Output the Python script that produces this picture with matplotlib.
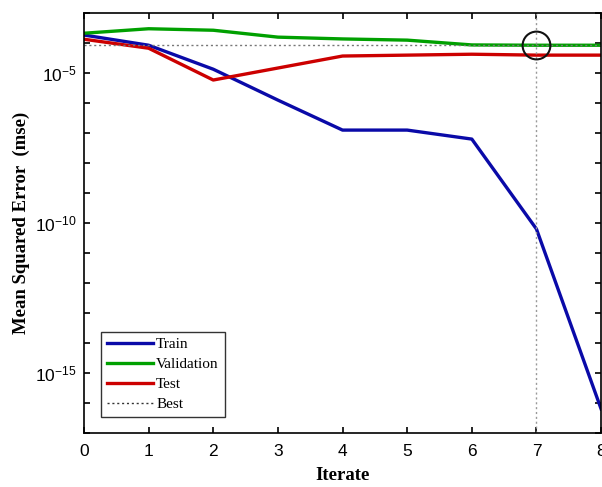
import numpy as np
import matplotlib
matplotlib.use("Agg")
import matplotlib.pyplot as plt
from matplotlib.ticker import FixedLocator, FuncFormatter, NullFormatter

plt.rcParams["mathtext.fontset"] = "custom"
plt.rcParams["mathtext.rm"] = "Liberation Sans"
plt.rcParams["mathtext.it"] = "Liberation Sans"
plt.rcParams["mathtext.bf"] = "Liberation Sans:bold"
plt.rcParams["font.family"] = ["Liberation Sans", "DejaVu Sans"]

epochs = [0, 1, 2, 3, 4, 5, 6, 7, 8]
train_log = [-3.73, -4.07, -4.87, -5.9, -6.9, -6.9, -7.2, -10.2, -16.2]
valid_log = [-3.67, -3.52, -3.57, -3.8, -3.86, -3.9, -4.06, -4.07, -4.07]
test_log = [-3.87, -4.17, -5.23, -4.83, -4.43, -4.4, -4.37, -4.4, -4.4]
best_epoch = 7
series_names = ["Train", "Validation", "Test", "Best"]

train = 10.0 ** np.array(train_log)
valid = 10.0 ** np.array(valid_log)
test = 10.0 ** np.array(test_log)
best_val = valid[best_epoch]

fig = plt.figure(figsize=(6.02, 4.87), dpi=100)
ax = fig.add_axes([0.1395, 0.111, 0.859, 0.862])

ax.plot(epochs, train, color="#0a0aa8", lw=2.4, label=series_names[0])
ax.plot(epochs, valid, color="#00a000", lw=2.4, label=series_names[1])
ax.plot(epochs, test, color="#cc0000", lw=2.4, label=series_names[2])
ax.axhline(best_val, color="#777777", ls=(0, (1.5, 2)), lw=1.0, label=series_names[3])
ax.axvline(best_epoch, color="#999999", ls=(0, (1.5, 2)), lw=1.0)
ax.plot([best_epoch], [best_val], marker="o", ms=20, mfc="none", mec="#111111", mew=1.5, ls="none")

ax.set_yscale("log")
ax.set_ylim(1e-17, 1e-3)
ax.set_xlim(0, 8)
ax.set_xticks(epochs)
ax.yaxis.set_major_locator(FixedLocator([1e-15, 1e-10, 1e-5]))
ax.yaxis.set_minor_locator(FixedLocator([10.0 ** k for k in range(-17, -2)]))
ax.yaxis.set_minor_formatter(NullFormatter())
ax.yaxis.set_major_formatter(FuncFormatter(lambda v, p: r"$\mathregular{10^{%d}}$" % int(round(np.log10(v)))))
ax.tick_params(which="both", direction="in", top=True, right=True, labelsize=12.5, width=1.2, length=4.5)
ax.tick_params(axis="x", pad=8)
ax.tick_params(axis="y", pad=5)
for s in ax.spines.values():
    s.set_linewidth(1.2)

ax.set_xlabel("Iterate", family="Liberation Serif", fontweight="bold", fontsize=13.5, labelpad=6)
ax.set_ylabel("Mean Squared Error  (mse)", family="Liberation Serif", fontweight="bold", fontsize=13.5, labelpad=4)

handles, labels = ax.get_legend_handles_labels()
leg = ax.legend(handles[:4], labels[:4], loc="lower left", bbox_to_anchor=(0.033, 0.038),
                borderaxespad=0,
                prop={"family": "Liberation Serif", "size": 11}, fancybox=False,
                edgecolor="#333333", framealpha=1, handlelength=3.0, handletextpad=0.2,
                labelspacing=0.4, borderpad=0.4)
leg.get_frame().set_linewidth(1.0)
leg.legend_handles[3].set_color("#333333")

fig.savefig("out.png", dpi=100)
